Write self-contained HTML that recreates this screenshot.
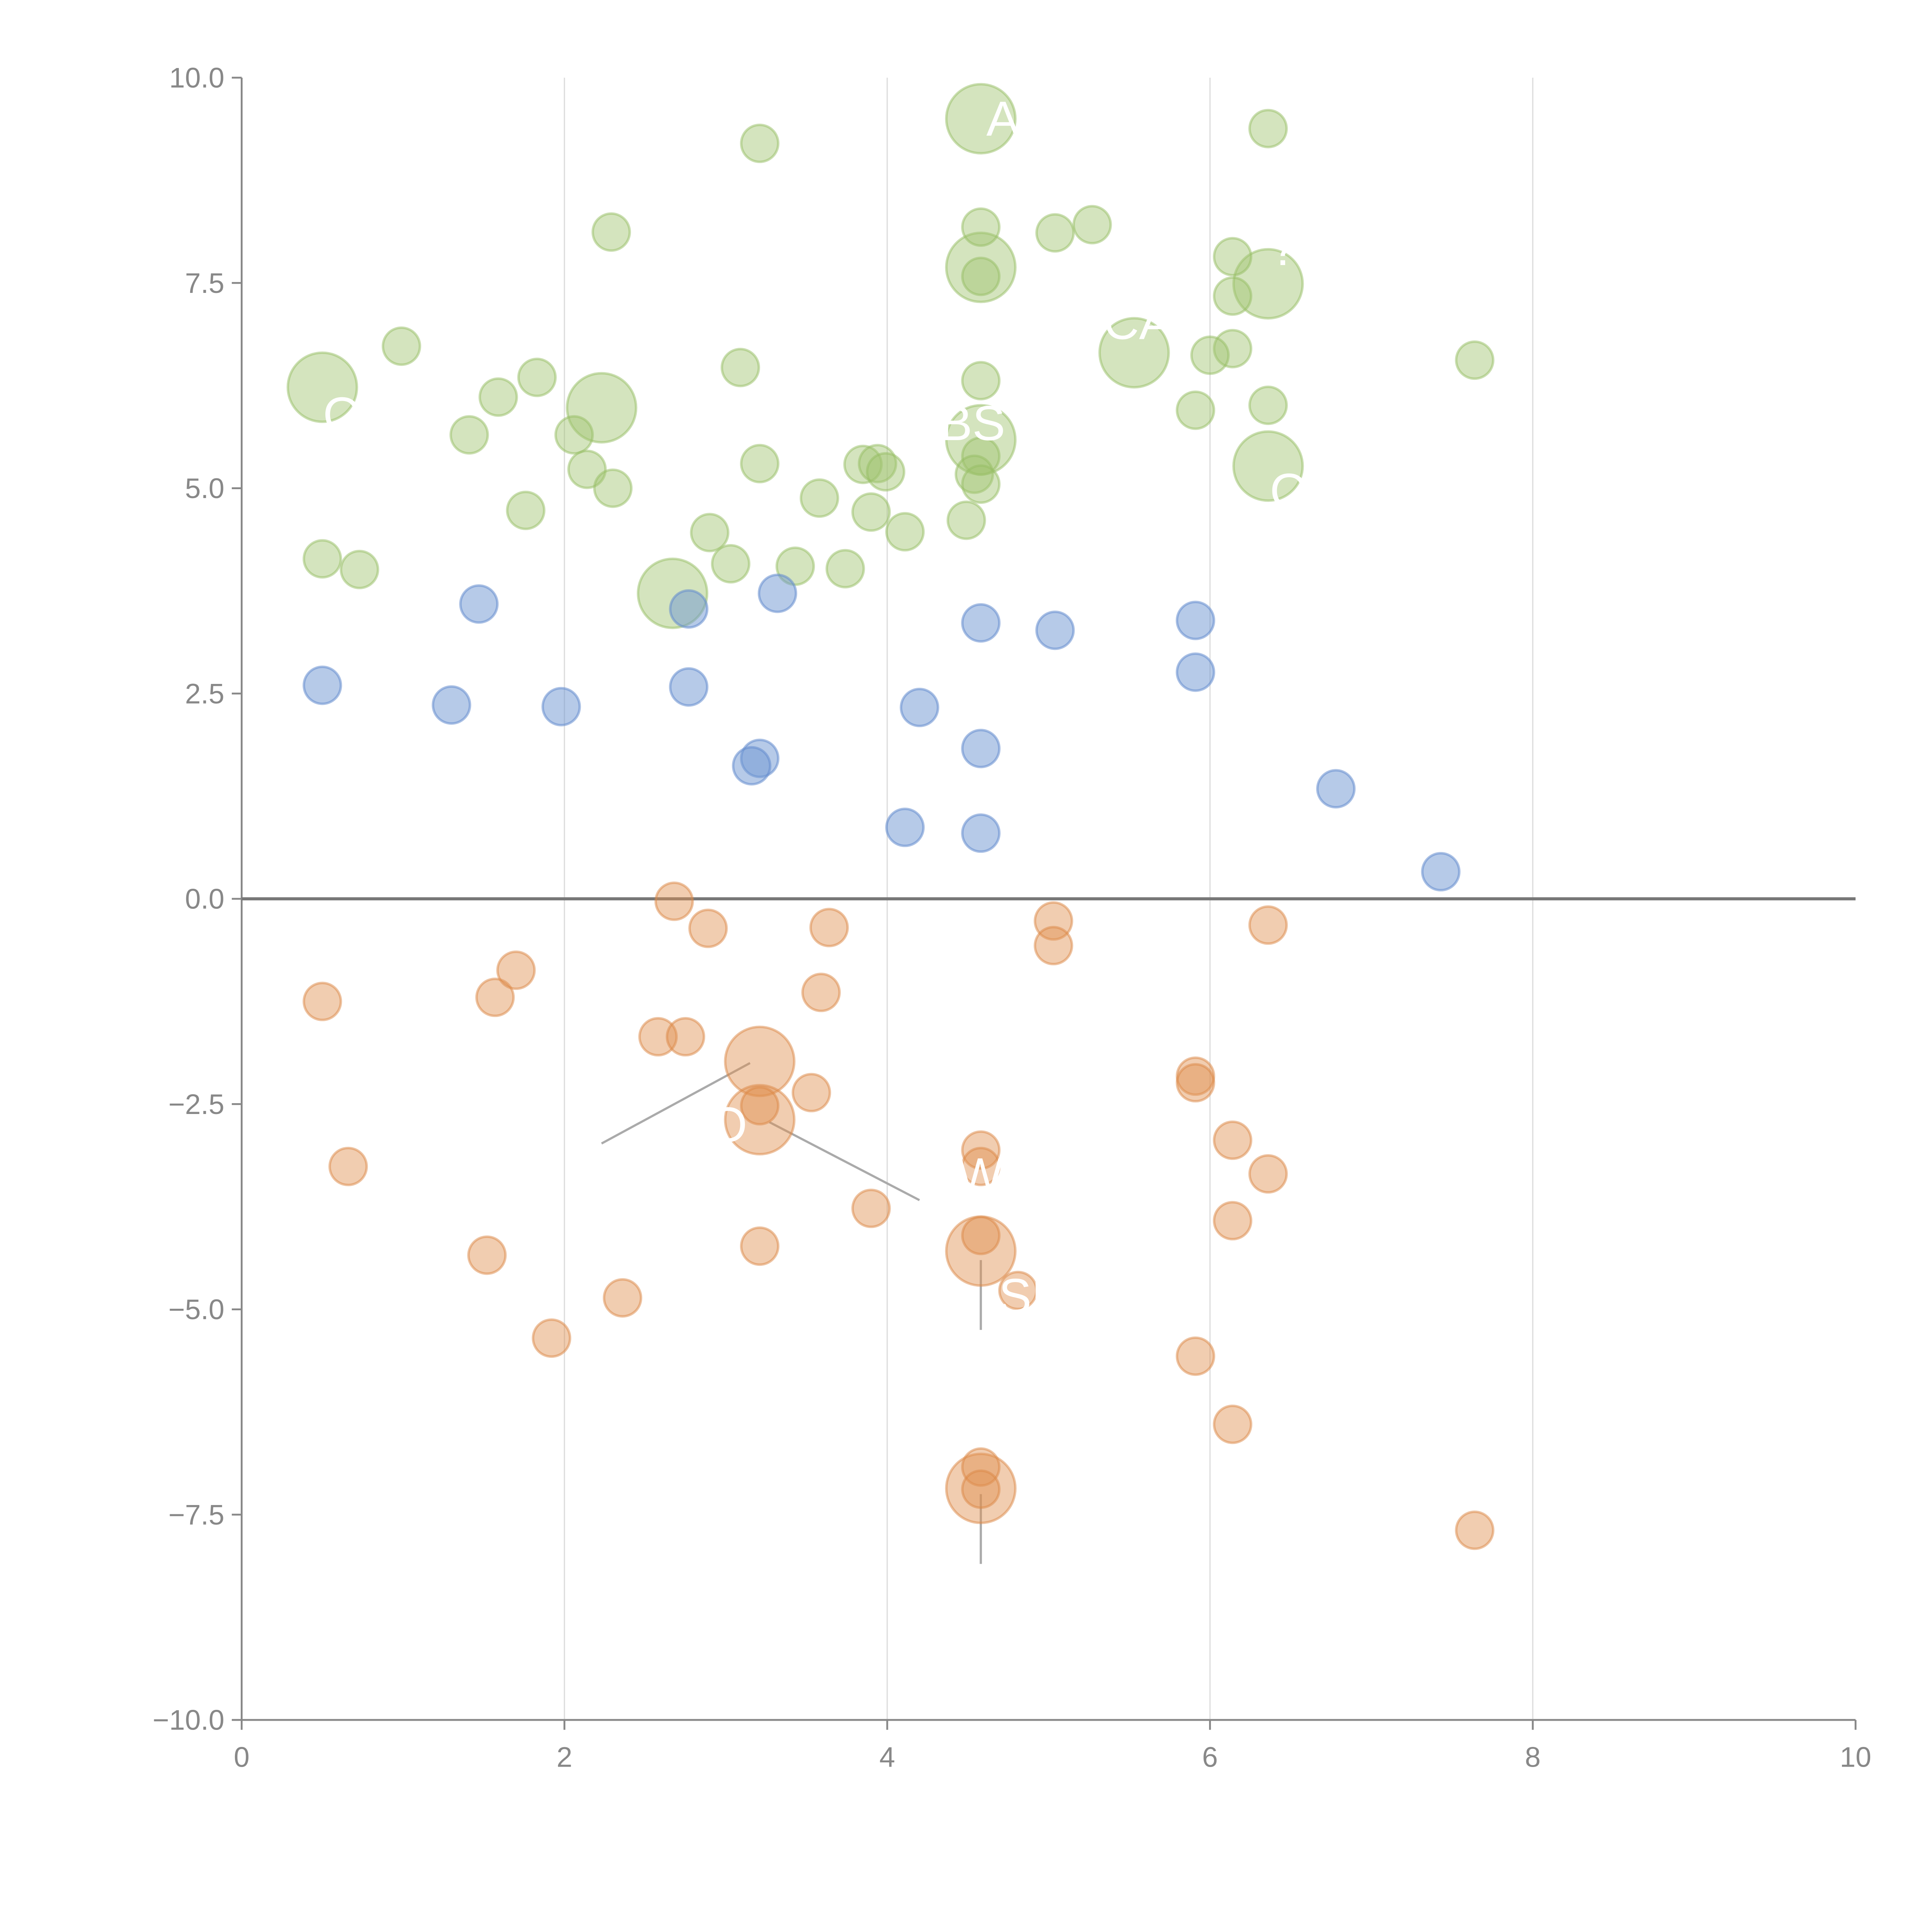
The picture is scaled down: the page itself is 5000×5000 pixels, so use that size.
<!DOCTYPE html>
<html><head><meta charset="utf-8"><style>
html,body{margin:0;padding:0;background:#fff;}
svg{display:block;}
text{font-family:"Liberation Sans",sans-serif;}
</style></head><body>
<svg id="chart" width="5000" height="5000" viewBox="0 0 1567 1567" xmlns="http://www.w3.org/2000/svg">
<g id="grid"></g>
<g id="axes"></g>
<g id="annot"></g>
<g id="marks"></g>
<g id="labels"></g>
</svg>
<script>
const xTicks=[0,2,4,6,8,10];
const yTicks=[10,7.5,5,2.5,0,-2.5,-5,-7.5,-10];
const yTickLabels=["10.0","7.5","5.0","2.5","0.0","\u22122.5","\u22125.0","\u22127.5","\u221210.0"];
const greenX=[3.21,6.36,2.29,4.58,5.04,5.27,6.14,6.14,4.58,0.99,1.83,1.59,3.09,6.14,6.00,7.64,4.58,5.91,6.36,1.41,2.06,2.14,3.21,3.85,3.94,3.99,4.58,4.54,4.58,1.76,2.30,3.58,3.90,4.11,4.49,2.90,0.50,0.73,3.03,3.43,3.74];
const greenY=[9.20,9.38,8.12,8.18,8.11,8.21,7.82,7.34,7.58,6.73,6.35,6.11,6.47,6.70,6.62,6.56,6.31,5.95,6.01,5.65,5.65,5.23,5.30,5.29,5.30,5.20,5.39,5.17,5.05,4.73,5.00,4.88,4.71,4.47,4.61,4.46,4.14,4.01,4.08,4.05,4.02];
const greenBigX=[4.58,4.58,6.36,5.53,0.50,2.23,4.58,6.36,2.67];
const greenBigY=[9.50,7.69,7.49,6.65,6.23,5.98,5.59,5.27,3.72];
const blueX=[1.47,0.50,1.30,1.98,2.77,2.77,3.32,4.58,5.04,5.91,5.91,4.20,4.58,3.21,3.16,4.11,4.58,6.78,7.43];
const blueY=[3.59,2.60,2.36,2.34,2.58,3.53,3.72,3.36,3.27,3.39,2.76,2.33,1.83,1.71,1.62,0.87,0.80,1.34,0.33];
const orangeX=[2.68,2.89,3.64,5.03,5.03,6.36,0.50,1.57,1.70,3.59,2.58,2.75,3.53,3.21,5.91,5.91,6.14,6.36,0.66,4.58,4.58,3.90,6.14,3.21,1.52,2.36,4.58,4.81,1.92,5.91,6.14,4.58,4.58,7.64];
const orangeY=[-0.03,-0.36,-0.35,-0.27,-0.57,-0.32,-1.25,-1.20,-0.87,-1.14,-1.68,-1.68,-2.36,-2.52,-2.16,-2.24,-2.94,-3.35,-3.26,-3.06,-3.26,-3.77,-3.92,-4.23,-4.34,-4.86,-4.10,-4.77,-5.35,-5.57,-6.40,-6.92,-7.19,-7.69];
const orangeBigX=[3.21,3.21,4.58,4.58];
const orangeBigY=[-1.98,-2.69,-4.29,-7.18];

const NS="http://www.w3.org/2000/svg";
const X0=196,X1=1505,Y0=1395,Y1=63;
function sx(v){return X0+(v-0)/(10-0)*(X1-X0);}
function sy(v){return Y0-(v+10)/20*(Y0-Y1);}
function mk(tag,attrs,parent){const e=document.createElementNS(NS,tag);for(const k in attrs)e.setAttribute(k,attrs[k]);parent.appendChild(e);return e;}
const grid=document.getElementById('grid'),axes=document.getElementById('axes'),marks=document.getElementById('marks'),labels=document.getElementById('labels'),annot=document.getElementById('annot');

xTicks.forEach(t=>{
  if(t>0&&t<10){const l=mk('line',{x1:sx(t),x2:sx(t),y1:Y1,y2:Y0,stroke:'#dddddd','stroke-width':1},grid);
  
  }
  mk('line',{x1:sx(t),x2:sx(t),y1:Y0,y2:Y0+8,stroke:'#888','stroke-width':1.5},axes);
  const tx=mk('text',{x:sx(t),y:Y0+38,'text-anchor':'middle','font-size':23,fill:'#888'},axes);
  tx.textContent=String(t);
  
  
});
yTicks.forEach((t,i)=>{
  mk('line',{x1:X0-8,x2:X0,y1:sy(t),y2:sy(t),stroke:'#888','stroke-width':1.5},axes);
  const tx=mk('text',{x:X0-14,y:sy(t)+8,'text-anchor':'end','font-size':23,fill:'#888'},axes);
  tx.textContent=yTickLabels[i];
  
  
});
const ya=mk('line',{x1:X0,x2:X0,y1:Y1,y2:Y0,stroke:'#888','stroke-width':1.5},axes);


const xa=mk('line',{x1:X0,x2:X1,y1:Y0,y2:Y0,stroke:'#888','stroke-width':1.5},axes);


const zl=mk('line',{x1:X0,x2:X1,y1:sy(0),y2:sy(0),stroke:'#777','stroke-width':2.5},axes);



[[2.23,-2.98,3.15,-2.0],[3.27,-2.72,4.2,-3.67],[4.58,-4.4,4.58,-5.25],[4.58,-7.25,4.58,-8.1]].forEach(s=>{
  const l=mk('line',{x1:sx(s[0]),y1:sy(s[1]),x2:sx(s[2]),y2:sy(s[3]),stroke:'#aaa','stroke-width':1.8},annot);
  
  
});

function draw(xs,ys,r,fill,stroke,name){
  xs.forEach((x,i)=>{
    const c=mk('circle',{cx:sx(x),cy:sy(ys[i]),r:r,fill:fill,stroke:stroke,'stroke-width':2},marks);
    
    
  });
}
const gF='rgba(160,196,110,0.45)',gS='rgba(150,190,100,0.5)';
const bF='rgba(110,150,210,0.5)',bS='rgba(100,140,205,0.55)';
const oF='rgba(225,145,80,0.45)',oS='rgba(220,135,70,0.5)';
draw(greenBigX,greenBigY,28,gF,gS,'green-bubble-large');
draw(greenX,greenY,15,gF,gS,'green-bubble');
draw(blueX,blueY,15,bF,bS,'blue-bubble');
draw(orangeBigX,orangeBigY,28,oF,oS,'orange-bubble-large');
draw(orangeX,orangeY,15,oF,oS,'orange-bubble');

[["A",800,110],["BS",762,357],["O",1030,412],["O",262,350],["O",575,926],["W",776,967],["SE",810,1065],["?",1030,215],["CA",895,275]].forEach(a=>{
  const t=mk('text',{x:a[1],y:a[2],'font-size':40,fill:'#fff'},labels);
  t.textContent=a[0];
  
  
});
</script>
</body></html>
